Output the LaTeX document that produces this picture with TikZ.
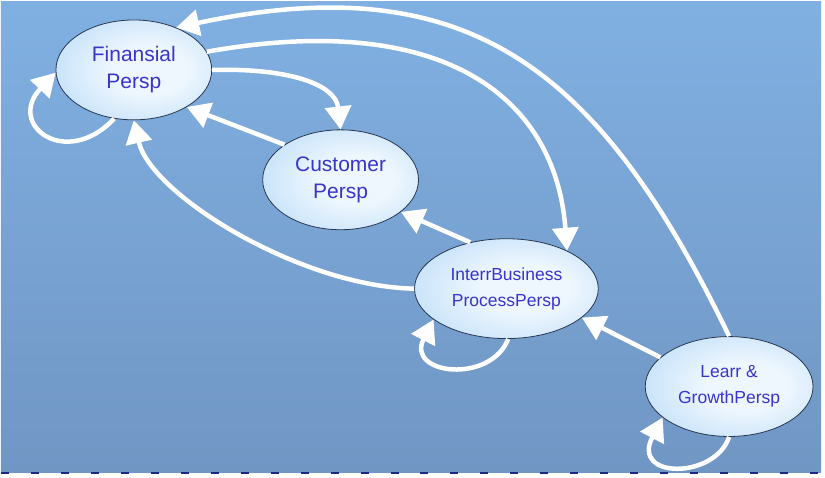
\documentclass[tikz,border=0pt]{standalone}
\usepackage{fontspec}
\setmainfont{Liberation Sans}
\usepackage{xcolor}
\usetikzlibrary{shapes.geometric, arrows.meta, positioning}

\definecolor{bgtop}{RGB}{128,176,226}
\definecolor{bgmid}{RGB}{146,196,242}
\definecolor{bgbot}{RGB}{112,150,196}
\definecolor{persptext}{RGB}{56,52,204}
\definecolor{perspedge}{RGB}{40,55,80}
\definecolor{perspin}{RGB}{238,247,254}
\definecolor{perspout}{RGB}{158,204,244}
\pgfdeclareradialshading{perspshade}{\pgfpoint{6bp}{0bp}}{color(0bp)=(perspin); color(12bp)=(perspin); color(50bp)=(perspout); color(75bp)=(perspout)}

\begin{document}
\begin{tikzpicture}[
  x=1pt, y=-1pt,
  persp/.style={ellipse, draw=perspedge, line width=0.8pt, shading=perspshade, align=center, text=persptext, inner sep=0pt},
  big/.style={persp, minimum width=156pt, minimum height=100pt, font=\fontsize{21}{27}\selectfont},
  small/.style={persp, minimum width=180pt, minimum height=100pt, font=\fontsize{17.5}{26}\selectfont},
  arr/.style={-{Triangle[length=23pt, width=26pt]}, draw=white, line width=4.5pt}
]
% background
\fill[white] (0,0) rectangle (825,478);
\shade[top color=bgtop, middle color=bgmid, bottom color=bgbot] (0,2) rectangle (821,473);
\draw[perspedge!70!blue, line width=2pt, dash pattern=on 8pt off 22pt] (0,474) -- (821,474);
\useasboundingbox (0,0) rectangle (825,478);

\node[big] (fin) at (133,70) {Finansial\\Persp};
\node[big] (cust) at (340,180) {Customer\\Persp};
\node[small, minimum width=184pt] (intern) at (506,289) {InterrBusiness\\ProcessPersp};
\node[small, minimum width=168pt] (learn) at (729,387) {Learr \&\\GrowthPersp};

\draw[arr] (fin.248) .. controls (65,170) and (5,125) .. (fin.182);
\draw[arr] (fin.0) .. controls (290,68) and (335,85) .. (cust.north);
\draw[arr] (cust.148) -- (fin.-35);
\draw[arr] (fin.14) .. controls (440,10) and (555,95) .. (intern.32);
\draw[arr] (learn.north) .. controls (600,70) and (470,-35) .. (fin.45);
\draw[arr] (intern.west) .. controls (300,287) and (150,195) .. (fin.south);
\draw[arr] (intern.128) -- (cust.-28);
\draw[arr] (intern.-88) .. controls (490,385) and (405,375) .. (intern.-157);
\draw[arr] (learn.157) -- (intern.-21);
\draw[arr] (learn.-90) .. controls (715,480) and (630,480) .. (learn.-155);
\end{tikzpicture}
\end{document}
